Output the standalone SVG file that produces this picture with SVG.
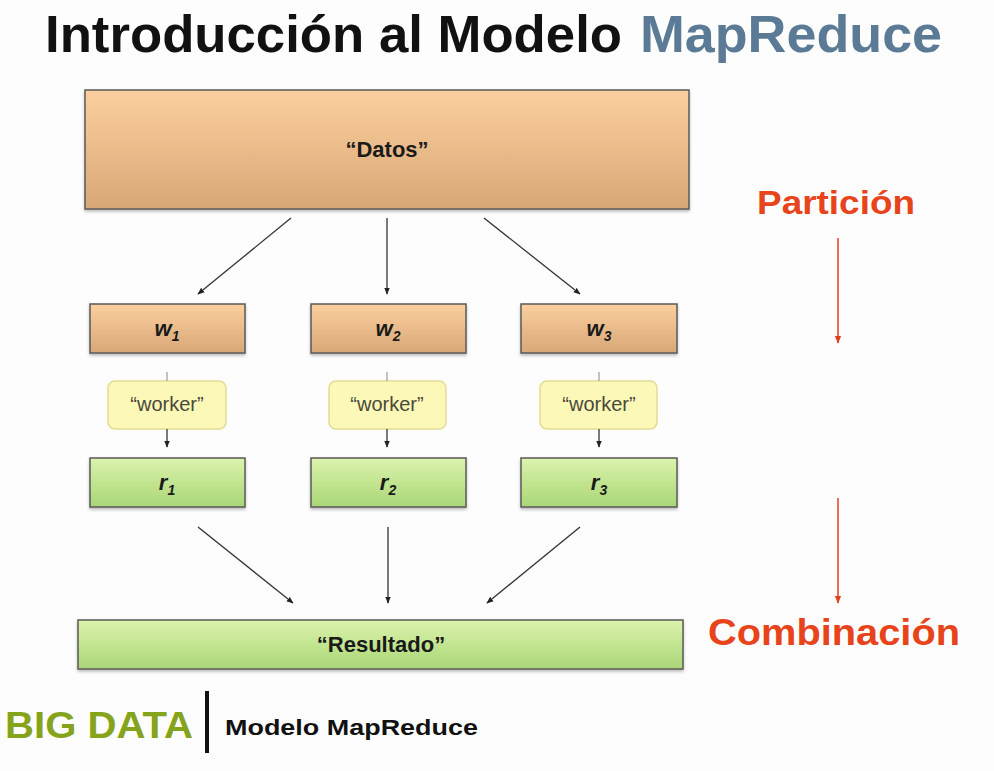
<svg xmlns="http://www.w3.org/2000/svg" width="994" height="771" viewBox="0 0 994 771">
<style>
.title{font-family:"Liberation Sans",Arial,sans-serif;font-weight:bold;font-size:52px}
.lbl{font-family:"Liberation Sans",Arial,sans-serif;font-weight:bold;fill:#1a1a1a;text-anchor:middle}
.wk{font-family:"Liberation Sans",Arial,sans-serif;font-size:20px;fill:#4a4a3a;text-anchor:middle}
.red{font-family:"Liberation Sans",Arial,sans-serif;font-weight:bold;fill:#e8441c;text-anchor:middle}
.box{stroke:#5a5a5a;stroke-width:1.5}
.conn{stroke:#333;stroke-width:1.3;fill:none}
.thin{stroke:#888;stroke-width:1;fill:none}
.redline{stroke:#e04020;stroke-width:1.5;fill:none}
</style>
<defs>
<linearGradient id="gOrange" x1="0" y1="0" x2="0" y2="1">
<stop offset="0" stop-color="#fbd09e"/>
<stop offset="1" stop-color="#d8a776"/>
</linearGradient>
<linearGradient id="gGreen" x1="0" y1="0" x2="0" y2="1">
<stop offset="0" stop-color="#dcf3ac"/>
<stop offset="1" stop-color="#a9d676"/>
</linearGradient>
<marker id="ah" viewBox="0 0 10 10" refX="9" refY="5" markerWidth="7" markerHeight="7" orient="auto" markerUnits="userSpaceOnUse">
<path d="M0,1 L10,5 L0,9 z" fill="#222"/>
</marker>
<marker id="ahr" viewBox="0 0 10 10" refX="9" refY="5" markerWidth="8" markerHeight="8" orient="auto" markerUnits="userSpaceOnUse">
<path d="M0,1 L10,5 L0,9 z" fill="#e04020"/>
</marker>
<filter id="sh" x="-5%" y="-10%" width="110%" height="130%">
<feDropShadow dx="0" dy="2" stdDeviation="1.5" flood-color="#000" flood-opacity="0.25"/>
</filter>
</defs>
<rect width="994" height="771" fill="#fdfdfd"/>

<g id="title">
<text class="title" x="45" y="52" fill="#111" textLength="577" lengthAdjust="spacingAndGlyphs">Introducción al Modelo</text>
<text class="title" x="640" y="52" fill="#5b7a95" textLength="302" lengthAdjust="spacingAndGlyphs">MapReduce</text>
</g>

<g id="datos">
<rect class="box" x="85" y="90" width="604" height="119" fill="url(#gOrange)" filter="url(#sh)"/>
<text class="lbl" x="387" y="157" font-size="22">“Datos”</text>
</g>

<g id="w1">
<rect class="box" x="90" y="304" width="155" height="49" fill="url(#gOrange)" filter="url(#sh)"/>
<text class="lbl" x="167" y="336" font-size="22" font-style="italic">w<tspan font-size="14" dy="5">1</tspan></text>
</g>
<g id="w2">
<rect class="box" x="311" y="304" width="155" height="49" fill="url(#gOrange)" filter="url(#sh)"/>
<text class="lbl" x="388" y="336" font-size="22" font-style="italic">w<tspan font-size="14" dy="5">2</tspan></text>
</g>
<g id="w3">
<rect class="box" x="521" y="304" width="156" height="49" fill="url(#gOrange)" filter="url(#sh)"/>
<text class="lbl" x="599" y="336" font-size="22" font-style="italic">w<tspan font-size="14" dy="5">3</tspan></text>
</g>

<g id="worker1">
<rect x="108" y="381" width="118" height="48" rx="7" fill="#fcf8b8" stroke="#e2dc94" stroke-width="1.5"/>
<text class="wk" x="167" y="411">“worker”</text>
</g>
<g id="worker2">
<rect x="329" y="381" width="117" height="48" rx="7" fill="#fcf8b8" stroke="#e2dc94" stroke-width="1.5"/>
<text class="wk" x="387" y="411">“worker”</text>
</g>
<g id="worker3">
<rect x="540" y="381" width="117" height="48" rx="7" fill="#fcf8b8" stroke="#e2dc94" stroke-width="1.5"/>
<text class="wk" x="599" y="411">“worker”</text>
</g>

<g id="r1">
<rect class="box" x="90" y="458" width="155" height="49" fill="url(#gGreen)" filter="url(#sh)"/>
<text class="lbl" x="167" y="490" font-size="22" font-style="italic">r<tspan font-size="14" dy="5">1</tspan></text>
</g>
<g id="r2">
<rect class="box" x="311" y="458" width="155" height="49" fill="url(#gGreen)" filter="url(#sh)"/>
<text class="lbl" x="388" y="490" font-size="22" font-style="italic">r<tspan font-size="14" dy="5">2</tspan></text>
</g>
<g id="r3">
<rect class="box" x="521" y="458" width="156" height="49" fill="url(#gGreen)" filter="url(#sh)"/>
<text class="lbl" x="599" y="490" font-size="22" font-style="italic">r<tspan font-size="14" dy="5">3</tspan></text>
</g>

<g id="resultado">
<rect class="box" x="78" y="620" width="605" height="49" fill="url(#gGreen)" filter="url(#sh)"/>
<text class="lbl" x="381" y="652" font-size="22">“Resultado”</text>
</g>

<g id="connectors">
<line class="conn" x1="291" y1="218" x2="198" y2="294" marker-end="url(#ah)"/>
<line class="conn" x1="387" y1="218" x2="387" y2="294" marker-end="url(#ah)"/>
<line class="conn" x1="484" y1="218" x2="580" y2="294" marker-end="url(#ah)"/>
<line class="thin" x1="167" y1="372" x2="167" y2="381"/>
<line class="thin" x1="387" y1="372" x2="387" y2="381"/>
<line class="thin" x1="599" y1="372" x2="599" y2="381"/>
<line class="conn" x1="167" y1="429" x2="167" y2="447" marker-end="url(#ah)"/>
<line class="conn" x1="387" y1="429" x2="387" y2="447" marker-end="url(#ah)"/>
<line class="conn" x1="599" y1="429" x2="599" y2="447" marker-end="url(#ah)"/>
<line class="conn" x1="198" y1="527" x2="293" y2="603" marker-end="url(#ah)"/>
<line class="conn" x1="388" y1="527" x2="388" y2="603" marker-end="url(#ah)"/>
<line class="conn" x1="580" y1="527" x2="487" y2="603" marker-end="url(#ah)"/>
<line class="redline" x1="838" y1="238" x2="838" y2="343" marker-end="url(#ahr)"/>
<line class="redline" x1="838" y1="498" x2="838" y2="603" marker-end="url(#ahr)"/>
</g>

<g id="particion">
<text class="red" x="836" y="214" font-size="34" textLength="158" lengthAdjust="spacingAndGlyphs">Partición</text>
</g>
<g id="combinacion">
<text class="red" x="834" y="645" font-size="37" textLength="252" lengthAdjust="spacingAndGlyphs">Combinación</text>
</g>

<g id="footer">
<text x="5" y="738" font-family="'Liberation Sans',Arial,sans-serif" font-weight="bold" font-size="37" fill="#86a31c" textLength="188" lengthAdjust="spacingAndGlyphs">BIG DATA</text>
<rect x="205" y="691" width="4" height="62" fill="#111"/>
<text x="225" y="735" font-family="'Liberation Sans',Arial,sans-serif" font-weight="bold" font-size="22" fill="#111" textLength="253" lengthAdjust="spacingAndGlyphs">Modelo MapReduce</text>
</g>
</svg>
